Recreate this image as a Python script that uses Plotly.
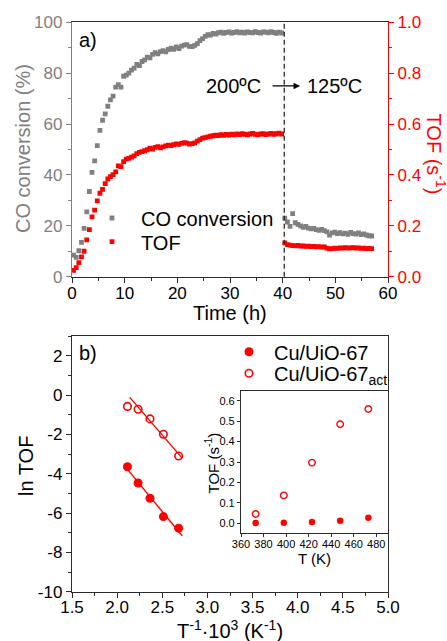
import numpy as np
import plotly.graph_objects as go

# ---------------- panel a: CO conversion / TOF vs time ----------------
time_200 = [0.3, 0.8, 1.3, 1.8, 2.3, 2.8, 3.3, 3.8, 4.3, 4.8,
            5.3, 5.8, 6.3, 6.8, 7.3, 7.8, 8.3, 8.8, 9.3, 9.8,
            10.3, 10.8, 11.3, 11.8, 12.3, 12.8, 13.3, 13.8, 14.3, 14.8,
            15.3, 15.8, 16.3, 16.8, 17.3, 17.8, 18.3, 18.8, 19.3, 19.8,
            20.3, 20.8, 21.3, 21.8, 22.3, 22.8, 23.3, 23.8, 24.3, 24.8,
            25.3, 25.8, 26.3, 26.8, 27.3, 27.8, 28.3, 28.8, 29.3, 29.8,
            30.3, 30.8, 31.3, 31.8, 32.3, 32.8, 33.3, 33.8, 34.3, 34.8,
            35.3, 35.8, 36.3, 36.8, 37.3, 37.8, 38.3, 38.8, 39.3, 39.8]
conv_200 = [8.5, 7.6, 10.2, 13.5, 19.0, 25.5, 33.5, 41.0, 45.5, 51.5,
            57.5, 61.5, 64.0, 67.0, 69.5, 71.0, 74.5, 75.5, 74.5, 78.8,
            79.2, 80.0, 81.2, 82.0, 83.5, 83.0, 84.6, 85.2, 86.3, 86.0,
            87.4, 88.1, 87.6, 88.5, 88.9, 88.4, 89.3, 89.8, 89.4, 90.3,
            89.7, 90.6, 91.0, 91.2, 90.5, 90.4, 90.9, 91.6, 92.8, 93.6,
            94.5, 95.1, 95.0, 95.6, 95.4, 95.9, 96.1, 95.7, 96.0, 96.2,
            95.8, 96.0, 96.3, 95.9, 96.1, 95.8, 96.2, 96.0, 95.9, 96.3,
            96.0, 95.8, 96.2, 96.1, 95.9, 96.3, 96.0, 95.7, 96.1, 95.8]
tof_200 = [0.025, 0.036, 0.055, 0.078, 0.100, 0.145, 0.185, 0.235, 0.262, 0.298,
           0.328, 0.343, 0.366, 0.384, 0.393, 0.401, 0.412, 0.436, 0.433, 0.452,
           0.462, 0.465, 0.470, 0.475, 0.484, 0.489, 0.492, 0.495, 0.499, 0.505,
           0.502, 0.508, 0.511, 0.506, 0.510, 0.514, 0.517, 0.515, 0.519, 0.522,
           0.520, 0.524, 0.527, 0.525, 0.521, 0.523, 0.526, 0.533, 0.539, 0.545,
           0.547, 0.550, 0.552, 0.554, 0.556, 0.555, 0.558, 0.556, 0.559, 0.557,
           0.560, 0.558, 0.561, 0.559, 0.562, 0.560, 0.558, 0.561, 0.563, 0.560,
           0.558, 0.561, 0.562, 0.559, 0.561, 0.563, 0.560, 0.562, 0.564, 0.561]

time_125 = [40.4, 40.9, 41.4, 41.9, 42.4, 42.9, 43.4, 43.9, 44.4, 44.9,
            45.4, 45.9, 46.4, 46.9, 47.4, 47.9, 48.4, 48.9, 49.4, 49.9,
            50.4, 50.9, 51.4, 51.9, 52.4, 52.9, 53.4, 53.9, 54.4, 54.9,
            55.4, 55.9, 56.4, 56.9]
conv_125 = [23.0, 21.5, 19.8, 24.8, 21.2, 20.6, 20.0, 19.4, 19.8, 19.1,
            18.8, 19.0, 18.5, 18.2, 18.6, 18.1, 17.6, 16.4, 17.2, 17.5,
            16.9, 17.3, 16.8, 17.1, 16.6, 17.4, 16.9, 16.7, 17.2, 16.5,
            16.8, 16.4, 16.1, 16.0]
tof_125 = [0.133, 0.126, 0.124, 0.122, 0.121, 0.123, 0.120, 0.121, 0.119, 0.120,
           0.118, 0.119, 0.117, 0.118, 0.116, 0.117, 0.112, 0.109, 0.110, 0.112,
           0.111, 0.113, 0.112, 0.114, 0.112, 0.113, 0.114, 0.112, 0.113, 0.111,
           0.112, 0.110, 0.111, 0.110]

switch_time = 40.3          # temperature change 200 -> 125 degC

# ---------------- panel b: Arrhenius plot + inset ----------------
temp_K = [373, 398, 423, 448, 473]
tof_cu = [0.00115, 0.00207, 0.00525, 0.0114, 0.026]
tof_cu_act = [0.045, 0.136, 0.297, 0.485, 0.560]

inv_T = [1000.0 / t for t in temp_K]
ln_cu = [float(np.log(v)) for v in tof_cu]
ln_act = [float(np.log(v)) for v in tof_cu_act]

# linear fits (activated sample fitted on the four lowest temperatures)
fit_cu = np.polyfit(inv_T, ln_cu, 1)
fit_act = np.polyfit(inv_T[:4], ln_act[:4], 1)
fit_cu_x = [2.09, 2.72]
fit_act_x = [2.14, 2.72]

GRAY = "#808080"
RED = "#ff0000"
DARK = "#2b2b2b"
FONT = "Liberation Sans, Arial, sans-serif"

W, H = 447, 641


def px_x(p):
    return p / W


def px_y(p):
    return 1 - p / H


fig = go.Figure()

fig.add_trace(go.Scatter(
    x=time_200 + time_125, y=conv_200 + conv_125, mode="markers",
    marker=dict(symbol="square", size=4.8, color=GRAY),
    name="CO conversion", xaxis="x", yaxis="y", legend="legend"))
fig.add_trace(go.Scatter(
    x=time_200 + time_125, y=tof_200 + tof_125, mode="markers",
    marker=dict(symbol="square", size=4.8, color=RED),
    name="TOF", xaxis="x", yaxis="y2", legend="legend2"))

fig.add_trace(go.Scatter(
    x=fit_cu_x, y=list(np.polyval(fit_cu, fit_cu_x)), mode="lines",
    line=dict(color=RED, width=1.4), showlegend=False, xaxis="x3", yaxis="y3"))
fig.add_trace(go.Scatter(
    x=fit_act_x, y=list(np.polyval(fit_act, fit_act_x)), mode="lines",
    line=dict(color=RED, width=1.4), showlegend=False, xaxis="x3", yaxis="y3"))
fig.add_trace(go.Scatter(
    x=inv_T, y=ln_cu, mode="markers",
    marker=dict(symbol="circle", size=9, color=RED),
    name="Cu/UiO-67", xaxis="x3", yaxis="y3", legend="legend3"))
fig.add_trace(go.Scatter(
    x=inv_T, y=ln_act, mode="markers",
    marker=dict(symbol="circle-open", size=7.5, color=RED, line=dict(width=1.6)),
    name="Cu/UiO-67<sub>act</sub>", xaxis="x3", yaxis="y3", legend="legend4"))

fig.add_trace(go.Scatter(
    x=temp_K, y=tof_cu, mode="markers",
    marker=dict(symbol="circle", size=6.5, color=RED),
    showlegend=False, xaxis="x4", yaxis="y4"))
fig.add_trace(go.Scatter(
    x=temp_K, y=tof_cu_act, mode="markers",
    marker=dict(symbol="circle-open", size=6.5, color=RED, line=dict(width=1.4)),
    showlegend=False, xaxis="x4", yaxis="y4"))

tick_font = dict(family=FONT, size=17, color="black")

# plot-area domains, expressed in figure pixels
dom_x = [px_x(72), px_x(388)]
dom_a = [px_y(276.7), px_y(22.3)]
dom_b = [px_y(591.7), px_y(336)]
dom_ix = [px_x(241), px_x(387.5)]
dom_iy = [px_y(533.3), px_y(390.7)]

yb_ticks = [-10, -8, -6, -4, -2, 0, 2]

common_axis = dict(showgrid=False, zeroline=False, automargin=False)

fig.update_layout(
    template="none",
    width=W, height=H,
    margin=dict(l=0, r=0, t=0, b=0, pad=0),
    paper_bgcolor="white", plot_bgcolor="rgba(0,0,0,0)",
    font=dict(family=FONT, size=17, color="black"),
    xaxis=dict(domain=dom_x, anchor="y", range=[0, 60], dtick=10,
               ticks="outside", ticklen=5, tickwidth=1.3, tickcolor=DARK,
               ticklabelstandoff=-4,
               minor=dict(dtick=5, ticks="outside", ticklen=3, tickcolor=DARK),
               showline=True, linecolor=DARK, linewidth=1.3, mirror=True,
               tickfont=tick_font, **common_axis),
    yaxis=dict(domain=dom_a, anchor="x", range=[0, 100], dtick=20,
               ticks="outside", ticklen=5, tickwidth=1.3, tickcolor=GRAY,
               minor=dict(dtick=10, ticks="outside", ticklen=3, tickcolor=GRAY),
               showline=True, linecolor=GRAY, linewidth=1.3,
               tickfont=dict(family=FONT, size=17, color=GRAY), **common_axis),
    yaxis2=dict(overlaying="y", anchor="x", side="right", range=[0, 1], dtick=0.2,
                tickformat=".1f",
                ticks="outside", ticklen=5, tickwidth=1.3, tickcolor=RED,
                minor=dict(dtick=0.1, ticks="outside", ticklen=3, tickcolor=RED),
                showline=True, linecolor=RED, linewidth=1.3,
                tickfont=dict(family=FONT, size=17, color=RED), **common_axis),
    xaxis3=dict(domain=dom_x, anchor="y3", range=[1.5, 5.0], dtick=0.5,
                tickformat=".1f",
                ticks="outside", ticklen=5, tickwidth=1.3, tickcolor=DARK,
                ticklabelstandoff=-5,
                minor=dict(dtick=0.25, ticks="outside", ticklen=3, tickcolor=DARK),
                showline=True, linecolor=DARK, linewidth=1.3, mirror=True,
                tickfont=tick_font, **common_axis),
    yaxis3=dict(domain=dom_b, anchor="x3", range=[-10, 3],
                tickmode="array", tickvals=yb_ticks,
                ticktext=[str(v) for v in yb_ticks],
                ticks="outside", ticklen=5, tickwidth=1.3, tickcolor=DARK,
                minor=dict(dtick=1, ticks="outside", ticklen=3, tickcolor=DARK),
                showline=True, linecolor=DARK, linewidth=1.3, mirror=True,
                tickfont=tick_font, **common_axis),
    xaxis4=dict(domain=dom_ix, anchor="y4", range=[360, 490], dtick=20,
                ticks="outside", ticklen=3, tickwidth=1, tickcolor=DARK,
                ticklabelstandoff=-3,
                showline=True, linecolor=DARK, linewidth=1.2, mirror=True,
                tickfont=dict(family=FONT, size=11, color="black"), **common_axis),
    yaxis4=dict(domain=dom_iy, anchor="x4", range=[-0.05, 0.65], dtick=0.1,
                tickformat=".1f",
                ticks="outside", ticklen=3, tickwidth=1, tickcolor=DARK,
                showline=True, linecolor=DARK, linewidth=1.2, mirror=True,
                tickfont=dict(family=FONT, size=11, color="black"), **common_axis),
)

legend_common = dict(xanchor="left", yanchor="middle", bgcolor="rgba(0,0,0,0)",
                     borderwidth=0,
                     font=dict(family=FONT, size=20, color="black"))
fig.update_layout(
    legend=dict(x=px_x(83), y=px_y(218), itemwidth=48, **legend_common),
    legend2=dict(x=px_x(83), y=px_y(241.7), itemwidth=48, **legend_common),
    legend3=dict(x=px_x(224), y=px_y(351.7), itemwidth=40, **legend_common),
    legend4=dict(x=px_x(224), y=px_y(373.3), itemwidth=40, **legend_common),
)

# dashed line marking the temperature switch
fig.add_shape(type="line", xref="x", yref="y domain",
              x0=switch_time, x1=switch_time, y0=0, y1=1,
              line=dict(color=DARK, width=1.3, dash="5px,3px"))

ann = []


def paper_text(text, x, y, size=20, color="black", angle=0, xanchor="center"):
    ann.append(dict(text=text, x=px_x(x), y=px_y(y), xref="paper", yref="paper",
                    showarrow=False, textangle=angle, xanchor=xanchor, yanchor="middle",
                    font=dict(family=FONT, size=size, color=color)))


paper_text("a)", 77, 40, xanchor="left")
paper_text("b)", 77, 353, xanchor="left")
paper_text("CO conversion (%)", 23, 149, color=GRAY, angle=-90)
paper_text("TOF (s<sup>-1</sup>)", 436.5, 154, color=RED, angle=90)
paper_text("Time (h)", 230, 312.7)
paper_text("ln TOF", 26, 466, angle=-90)
paper_text("T<sup>-1</sup>·10<sup>3</sup> (K<sup>-1</sup>)", 230, 629)
paper_text("TOF (s<sup>-1</sup>)", 212.5, 463, size=15, angle=-90)
paper_text("T (K)", 314, 558.3, size=15)

ann.append(dict(text="200ºC", x=36.3, y=75, xref="x", yref="y", showarrow=False,
                xanchor="right", yanchor="middle",
                font=dict(family=FONT, size=20, color="black")))
ann.append(dict(text="125ºC", x=44.3, y=75, xref="x", yref="y", showarrow=False,
                xanchor="left", yanchor="middle",
                font=dict(family=FONT, size=20, color="black")))
ann.append(dict(text="", x=43.3, y=75, ax=37.8, ay=75, xref="x", yref="y",
                axref="x", ayref="y", showarrow=True, arrowhead=2, arrowsize=1,
                arrowwidth=1.3, arrowcolor="black"))

fig.update_layout(annotations=ann)

fig.write_html("out.html")
